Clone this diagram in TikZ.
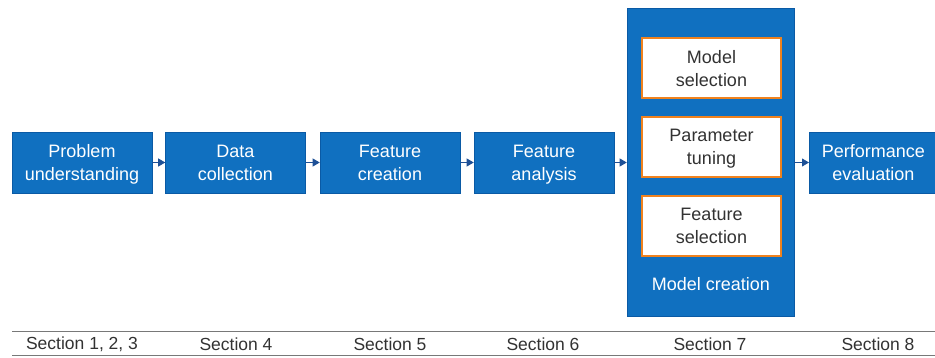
\documentclass[tikz,border=0pt]{standalone}
\usepackage{fontspec}
\setmainfont{Liberation Sans}
\usetikzlibrary{arrows.meta}
\definecolor{stepblue}{RGB}{16,112,192}
\definecolor{stepedge}{RGB}{10,90,165}
\definecolor{arrowblue}{RGB}{30,80,150}
\definecolor{tuneorange}{RGB}{240,130,30}
\definecolor{rulegray}{RGB}{120,120,120}
\definecolor{labelgray}{RGB}{50,50,50}
\tikzset{
  stepbox/.style={draw=stepedge, fill=stepblue, text=white, line width=0.6pt,
    minimum width=140pt, minimum height=61pt, inner sep=0pt, align=center,
    text depth=0pt, font=\fontsize{18}{23}\selectfont},
  subbox/.style={draw=tuneorange, fill=white, text=labelgray, line width=2pt,
    minimum width=139pt, minimum height=60pt, inner sep=0pt, align=center,
    text depth=0pt, font=\fontsize{18}{23}\selectfont},
  flow/.style={draw=arrowblue, line width=0.8pt, -{Triangle[length=7pt,width=8pt]}},
  seclabel/.style={text=labelgray, font=\fontsize{17.5}{20}\selectfont, inner sep=0pt},
  sectionrule/.style={draw=rulegray, line width=0.8pt}
}
\begin{document}
\begin{tikzpicture}[x=1pt,y=-1pt]
\useasboundingbox (0,0) rectangle (935,358);
% main flow
\node[stepbox] (p1) at (82,162.5) {Problem\\understanding};
\node[stepbox] (p2) at (235.5,162.5) {Data\\collection};
\node[stepbox] (p3) at (390,162.5) {Feature\\creation};
\node[stepbox] (p4) at (544,162.5) {Feature\\analysis};
% model creation container
\node[draw=stepedge, fill=stepblue, line width=0.6pt, minimum width=167pt,
  minimum height=308pt, inner sep=0pt] (mc) at (710.5,162) {};
\node[subbox] (s1) at (711.5,68) {Model\\selection};
\node[subbox] (s2) at (711.5,147) {Parameter\\tuning};
\node[subbox] (s3) at (711.5,226) {Feature\\selection};
\node[text=white, font=\fontsize{18}{23}\selectfont, inner sep=0pt] (mcl) at (711,284) {Model creation};
\node[stepbox, minimum width=128pt, anchor=west] (p6) at (809,162.5) {Performance\\evaluation};
% connectors
\draw[flow] (p1) -- (p2);
\draw[flow] (p2) -- (p3);
\draw[flow] (p3) -- (p4);
\draw[flow] (p4.east) -- (p4.east -| mc.west);
\draw[flow] (mc.east |- p6.west) -- (p6.west);
% section table
\coordinate (rtl) at (12,331);
\coordinate (rtr) at (935,331);
\coordinate (rbl) at (12,355);
\coordinate (rbr) at (935,355);
\draw[sectionrule] (rtl) -- (rtr);
\draw[sectionrule] (rbl) -- (rbr);
\node[seclabel] (c1) at (82,344) {Section 1, 2, 3};
\node[seclabel] (c2) at (236,344) {Section 4};
\node[seclabel] (c3) at (390,344) {Section 5};
\node[seclabel] (c4) at (543,344) {Section 6};
\node[seclabel] (c5) at (710,344) {Section 7};
\node[seclabel] (c6) at (878,344) {Section 8};
\end{tikzpicture}
\end{document}
